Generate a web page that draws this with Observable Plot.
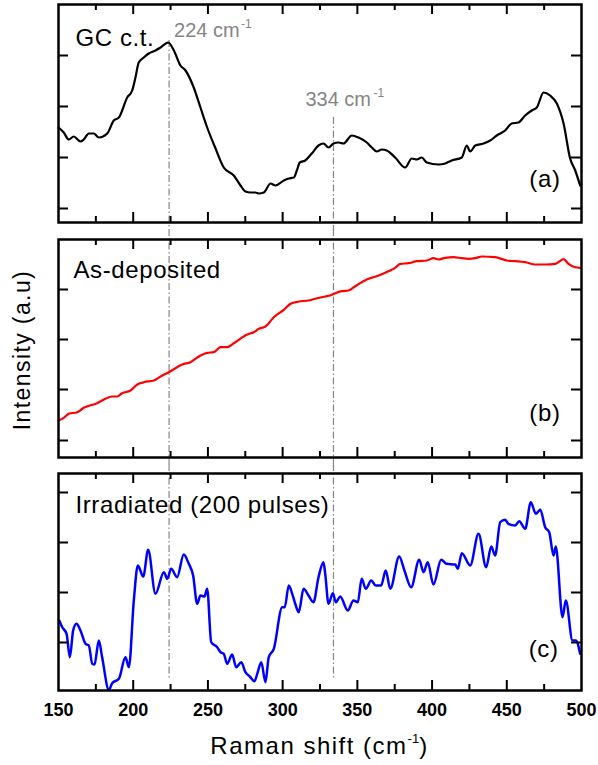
<!DOCTYPE html>
<html>
<head>
<meta charset="utf-8">
<script src="https://cdn.jsdelivr.net/npm/d3@7"></script>
<script src="https://cdn.jsdelivr.net/npm/@observablehq/plot@0.6"></script>
<style>
  body { margin: 0; background: #fff; }
  #chart { position: relative; width: 598px; height: 765px; font-family: "Liberation Sans", Arial, sans-serif; overflow: hidden; }
  #chart svg { display: block; }
  #chart g[aria-label="text"][fill="#000"] text { letter-spacing: 0.6px; }
  .ylab { position: absolute; left: -78px; top: 337px; width: 200px; text-align: center; font-size: 23px; line-height: 26px; letter-spacing: 1.4px; transform: rotate(-90deg); color: #000; }
  .xlab { position: absolute; left: 119.5px; width: 400px; top: 734px; text-align: center; font-size: 24px; line-height: 24px; letter-spacing: 1.5px; color: #000; }
  .xlab sup { font-size: 13px; letter-spacing: 0; vertical-align: 0; position: relative; top: -11px; }
</style>
</head>
<body>
<div id="chart"></div>
<script>
// ---- x ticks ----
const xTicksMajor = [150, 200, 250, 300, 350, 400, 450, 500];
const xTicksMinor = [175, 225, 275, 325, 375, 425, 475];

// ---- (a) GC c.t. ----
const gcShift = [150,153.5,156.9,160.2,164.7,166.9,170.3,173.6,177,182.6,187,190.4,196,199.3,201.5,203.7,207.1,210.4,214.9,218.3,223.4,227.2,231.6,235,240.5,245,249.5,255.1,260.6,267.3,271.8,275.1,278.5,281.8,284,287.4,291.9,295.2,300.8,304.1,307.5,309.5,311.5,315.1,319.5,324,327.3,330.7,334,337.4,340.7,346.3,350.8,356.3,359.7,363,366.4,369.7,375.3,382,386.4,389.8,393.1,396.5,404.3,408.8,413.2,419.9,423.2,425.5,428.9,434.4,438.9,443.3,448.9,453.3,457.8,462.3,466.7,470.1,474.6,479,483.5,488,492.4,495.8,499.1];
const gcIntensity = [95,90,83,86,81,83,89,89,85,89,102,105,125,132,145,160,165,169,172,175,180,172,157,152,135,115,95,74,55,47,37,31,30,30,29,30,39,37,42,44,45,52,60,62,69,77,79,75,79,80,79,87,85,80,75,71,73,72,65,55,64,63,65,60,58,59,62,65,77,71,77,79,82,87,92,99,100,107,112,115,130,127,119,99,64,52,37];

// ---- (b) As-deposited ----
const asdepShift = [150,153.5,156.9,162.5,166.9,175.9,179.2,185.9,189.3,192.6,198.2,202.7,207.1,213.8,218.3,223.8,229.4,232.8,238.3,245,249.5,253.9,258.4,262.9,267.3,276.3,280.7,284,288.5,294.1,300.8,305.3,310.8,317.3,321.8,328.5,331.8,335.2,339.6,344.1,348.6,357.5,364.2,370.8,375.3,378.7,384.2,389.8,396.5,401,404.3,408.8,414.3,419.9,424.4,428.9,433.3,442.2,450,455.6,462.3,469,475.7,482.4,488,491.3,495.8,499.1];
const asdepIntensity = [37,39.7,43.7,45.3,49.7,54.3,57,61,61,64.3,67,73,75.3,77,81,85.3,90.3,93,95.3,102,104.7,105.3,110.3,110.3,114.3,123,125.3,128.7,131,140.3,147.7,153.7,156,157,158.7,161,162,164.3,166.3,167,171.3,178.7,182,186.3,189.7,193.7,194.3,196.3,197,199.3,198,199.7,200.3,199.3,198.7,199.3,201,200.3,197,196.3,195.3,193,193,193.7,198.3,193.7,190.3,189.7];

// ---- (c) Irradiated (200 pulses) ----
const irrShift = [150.5,152.5,155.4,157.6,159.8,162,164.7,168.1,170.3,172.6,174.1,177,179.2,183.7,185.9,190.4,194.8,197.1,200.4,203.1,206.7,210,214.9,220.5,222.8,225.4,229.4,233.8,237.2,240.1,242.8,245,247.7,249.5,252.2,256.2,258.4,260.6,262.9,266.2,268.9,272.3,275.1,278,281.2,283,285.7,288.5,290.7,294.1,299.7,301.4,304.1,306.4,308.6,310.8,314,317.3,320.6,324,327.3,328.5,330.7,333.6,335.6,338.5,343.6,347.4,350.3,352.9,355.6,359.3,362.3,365.9,369,372,378,381.5,386,391.4,394.3,397.1,400.9,406.1,409.8,415.5,417.2,419.9,425.5,431.1,436.2,439.6,442.2,445.6,448.9,451.1,455.6,458.3,462.3,466.1,469.4,472.4,475.7,478.4,481.3,482.8,487.3,489.5,494,496.2,499.1];
const irrIntensity = [70,63.3,56.7,33.3,60,66.7,60,46.7,45,26.7,26,50,33.3,0.7,7.3,11.7,33.3,23.3,90,125,114,140.7,96.7,118.3,111.7,121.7,113.3,136,126.7,115,86.7,95,94,101.7,48.3,43.3,38.3,36.7,26.7,36,23.3,28.3,18.3,14,9.3,16.7,28.3,8.3,33.3,41.7,83.3,83.3,105,96.7,86,78.3,101.7,95,88.3,113.3,128.3,116.7,86.7,97.3,88.3,94,80,90,88.3,111.7,101.7,110,105,105,120,101.7,134,120,103.3,130.7,118.3,128.3,106,130.7,126.7,126,121.7,137.3,125,156.7,123.3,144,135,168.3,170.7,166.7,165,169.3,161.7,188.3,176.7,180.7,163.3,158.3,135,144,73.3,90,50,50,36.7];

// ---- y ticks (arbitrary units) and domains ----
const yTicksA = [14, 65, 116, 167];
const yTicksB = [17, 68, 118, 168];
const yTicksC = [48, 98, 148, 198];
const yDomainA = [0, 218];
const yDomainB = [0, 218];
const yDomainC = [0, 217];

// ---- peak markers ----
const peakShifts = [224, 334];
const peakTopA = [182, 105];      // upper ends of the markers in panel (a)
const peakBottomC = [12, 10];     // lower ends in panel (c)

const FONT = "Liberation Sans, Arial, sans-serif";
const W = 598, ML = 58, MR = 17;
const FW = W - ML - MR;
const DASH = "7,2.5,1.5,2.5";
const GRAY = "#858585";

function tickMarks(fh) {
  return [
    Plot.tickX(xTicksMajor.slice(1, -1), {x: d => d, insetBottom: fh - 10, strokeWidth: 2}),
    Plot.tickX(xTicksMinor, {x: d => d, insetBottom: fh - 6, strokeWidth: 2}),
    Plot.tickX(xTicksMajor.slice(1, -1), {x: d => d, insetTop: fh - 10, strokeWidth: 2}),
    Plot.tickX(xTicksMinor, {x: d => d, insetTop: fh - 6, strokeWidth: 2})
  ];
}
function yTickMarks(ticks) {
  return [
    Plot.tickY(ticks, {y: d => d, insetRight: FW - 10, strokeWidth: 2}),
    Plot.tickY(ticks, {y: d => d, insetLeft: FW - 10, strokeWidth: 2})
  ];
}
function series(xs, ys) { return xs.map((x, i) => ({x, y: ys[i]})); }

function panel({data, color, sw, yDomain, yTicks, marginTop, marginBottom, height, extra, xAxis}) {
  const fh = height - marginTop - marginBottom;
  return Plot.plot({
    width: W, height, marginLeft: ML, marginRight: MR, marginTop, marginBottom,
    style: {fontFamily: FONT, background: "white"},
    x: xAxis ? {domain: [150, 500], label: null} : {domain: [150, 500], axis: null},
    y: {domain: yDomain, axis: null},
    marks: [
      ...extra,
      Plot.line(data, {x: "x", y: "y", stroke: color, strokeWidth: sw, curve: "monotone-x"}),
      ...tickMarks(fh),
      ...yTickMarks(yTicks),
      Plot.frame({stroke: "black", strokeWidth: 2.5}),
      ...(xAxis ? [Plot.axisX(xTicksMajor, {anchor: "bottom", tickSize: 0, tickPadding: 13, fontSize: 18, fontWeight: "bold", label: null, tickFormat: d => String(d)})] : [])
    ]
  });
}

const labelStyle = {fill: "#000", fontSize: 24, textAnchor: "start", lineAnchor: "bottom"};

// Panel (a)
const pA = panel({
  data: series(gcShift, gcIntensity), color: "#000", sw: 2.2,
  yDomain: yDomainA, yTicks: yTicksA, marginTop: 4, marginBottom: 8, height: 230,
  extra: [
    Plot.ruleX(peakShifts, {x: d => d, y1: (d, i) => peakTopA[i], y2: -8, stroke: GRAY, strokeWidth: 1.2, strokeDasharray: DASH}),
    Plot.text(["GC c.t."], {...labelStyle, frameAnchor: "top-left", dx: 17, dy: 41}),
    Plot.text(["(a)"], {...labelStyle, textAnchor: "end", frameAnchor: "bottom-right", dx: -21, dy: -36}),
    Plot.text([peakShifts[0]], {x: d => d, frameAnchor: "top", dy: 32, dx: 5, text: d => `${d} cm`, fill: GRAY, fontSize: 20, textAnchor: "start", lineAnchor: "bottom"}),
    Plot.text([peakShifts[0]], {x: d => d, frameAnchor: "top", dy: 23, dx: 72, text: () => "-1", fill: GRAY, fontSize: 12, textAnchor: "start", lineAnchor: "bottom"}),
    Plot.text([peakShifts[1]], {x: d => d, frameAnchor: "top", dy: 101, dx: -28, text: d => `${d} cm`, fill: GRAY, fontSize: 20, textAnchor: "start", lineAnchor: "bottom"}),
    Plot.text([peakShifts[1]], {x: d => d, frameAnchor: "top", dy: 92, dx: 40, text: () => "-1", fill: GRAY, fontSize: 12, textAnchor: "start", lineAnchor: "bottom"})
  ]
});

// Panel (b)
const pB = panel({
  data: series(asdepShift, asdepIntensity), color: "#ff0000", sw: 2.2,
  yDomain: yDomainB, yTicks: yTicksB, marginTop: 9, marginBottom: 8, height: 235,
  extra: [
    Plot.ruleX(peakShifts, {x: d => d, y1: 228, y2: -8, stroke: GRAY, strokeWidth: 1.2, strokeDasharray: DASH}),
    Plot.text(["As-deposited"], {...labelStyle, frameAnchor: "top-left", dx: 15, dy: 38}),
    Plot.text(["(b)"], {...labelStyle, textAnchor: "end", frameAnchor: "bottom-right", dx: -21, dy: -37})
  ]
});

// Panel (c)
const pC = panel({
  data: series(irrShift, irrIntensity), color: "#0000ff", sw: 2.5,
  yDomain: yDomainC, yTicks: yTicksC, marginTop: 8, marginBottom: 75, height: 300,
  xAxis: true,
  extra: [
    Plot.ruleX(peakShifts, {x: d => d, y1: 226, y2: (d, i) => peakBottomC[i], stroke: GRAY, strokeWidth: 1.2, strokeDasharray: DASH}),
    Plot.text(["Irradiated (200 pulses)"], {...labelStyle, frameAnchor: "top-left", dx: 17, dy: 39}),
    Plot.text(["(c)"], {...labelStyle, textAnchor: "end", frameAnchor: "bottom-right", dx: -23, dy: -34})
  ]
});

const chart = document.getElementById("chart");
chart.append(pA, pB, pC);

const ylab = document.createElement("div");
ylab.className = "ylab";
ylab.textContent = "Intensity (a.u)";
chart.append(ylab);

const xlab = document.createElement("div");
xlab.className = "xlab";
xlab.innerHTML = "Raman shift (cm<sup>-1</sup>)";
chart.append(xlab);
</script>
</body>
</html>
